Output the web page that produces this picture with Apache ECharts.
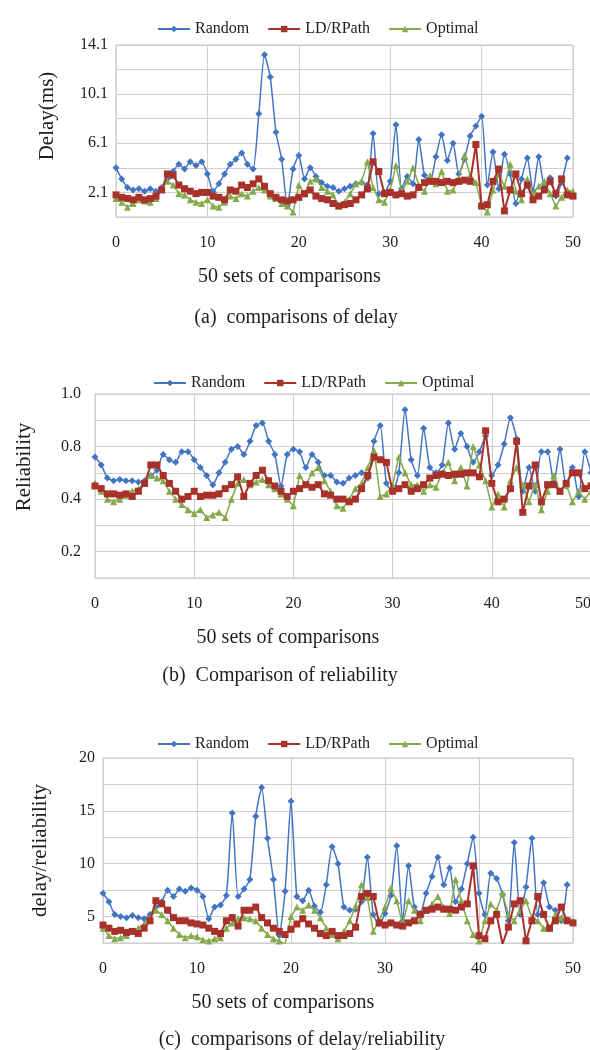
<!DOCTYPE html>
<html>
<head>
<meta charset="utf-8">
<script src="https://cdn.jsdelivr.net/npm/echarts@6/dist/echarts.min.js"></script>
<style>
  html, body { margin: 0; padding: 0; background: #fff; }
  #chart { width: 590px; height: 1050px; }
</style>
</head>
<body>
<div id="chart"></div>
<script>
// one point every 0.625 "sets" along the x axis
const SET_STEP = 0.625;
const seriesNames = ["Random", "LD/RPath", "Optimal"];

// (a) delay (ms)
const delayRandom = [4.1, 3.2, 2.5, 2.3, 2.4, 2.2, 2.4, 2.2, 2.5, 3.2, 3.8, 4.4, 4.0, 4.6, 4.3, 4.6, 3.6, 2.2, 2.8, 3.6,
    4.4, 4.8, 5.3, 4.4, 4.0, 8.5, 13.3, 11.5, 7.0, 4.8, 1.0, 4.0, 5.1, 3.2, 4.1, 3.4, 2.9, 2.6, 2.5, 2.2,
    2.4, 2.6, 2.8, 2.9, 2.7, 6.9, 2.0, 2.1, 3.0, 7.6, 2.4, 3.4, 2.8, 6.4, 3.5, 3.0, 5.0, 6.8, 4.7, 6.1,
    3.6, 4.8, 6.7, 7.5, 8.3, 2.7, 5.4, 2.4, 5.2, 3.6, 1.2, 3.2, 4.9, 2.2, 5.0, 2.6, 3.3, 1.8, 2.9, 4.9];
const delayLdr = [1.9, 1.7, 1.6, 1.5, 1.7, 1.5, 1.6, 1.8, 2.3, 3.6, 3.5, 2.7, 2.4, 2.2, 2.0, 2.1, 2.1, 1.8, 1.7, 1.5,
    2.3, 2.2, 2.7, 2.5, 2.8, 3.2, 2.6, 2.0, 1.7, 1.5, 1.4, 1.5, 1.7, 2.0, 2.3, 1.8, 1.6, 1.5, 1.2, 1.0,
    1.1, 1.2, 1.5, 1.9, 2.4, 4.6, 3.8, 2.0, 2.1, 1.9, 2.0, 1.8, 1.9, 2.5, 2.9, 3.0, 3.0, 2.9, 3.0, 2.9,
    3.0, 3.1, 3.0, 6.0, 1.0, 1.1, 3.0, 4.0, 0.6, 2.3, 3.6, 2.0, 2.7, 1.5, 1.8, 2.3, 3.0, 2.0, 3.2, 1.9, 1.8];
const delayOpt = [1.6, 1.3, 0.9, 1.2, 1.5, 1.4, 1.3, 1.6, 2.4, 3.0, 2.7, 2.0, 1.9, 1.5, 1.3, 1.2, 1.5, 1.0, 0.9, 1.3,
    1.8, 1.6, 2.0, 1.8, 2.2, 2.5, 2.3, 1.8, 1.6, 1.2, 1.0, 0.5, 2.7, 2.0, 3.0, 3.2, 2.5, 2.2, 1.9, 1.0,
    1.3, 2.0, 2.8, 3.0, 4.6, 2.5, 1.5, 1.3, 2.3, 4.3, 2.2, 3.0, 4.1, 2.7, 2.2, 3.5, 2.8, 3.8, 2.2, 2.3,
    3.2, 5.1, 3.5, 2.9, 1.0, 0.5, 2.3, 3.6, 2.6, 4.4, 2.2, 1.5, 3.2, 2.0, 2.6, 3.0, 2.0, 1.0, 1.7, 2.3, 2.2];

// (b) reliability
const relRandom = [0.76, 0.73, 0.68, 0.67, 0.675, 0.67, 0.67, 0.665, 0.67, 0.69, 0.71, 0.77, 0.75, 0.74, 0.78, 0.78, 0.75, 0.72, 0.69, 0.655,
    0.70, 0.74, 0.79, 0.80, 0.77, 0.82, 0.88, 0.89, 0.82, 0.77, 0.65, 0.77, 0.79, 0.78, 0.72, 0.77, 0.74, 0.69, 0.69, 0.665,
    0.66, 0.68, 0.69, 0.70, 0.68, 0.82, 0.88, 0.66, 0.63, 0.70, 0.94, 0.75, 0.69, 0.87, 0.72, 0.70, 0.73, 0.89, 0.79, 0.85,
    0.80, 0.74, 0.78, 0.84, 0.69, 0.73, 0.81, 0.91, 0.83, 0.63, 0.72, 0.63, 0.78, 0.78, 0.66, 0.79, 0.65, 0.72, 0.61, 0.78, 0.70];
const relLdr = [0.65, 0.64, 0.62, 0.62, 0.615, 0.62, 0.61, 0.63, 0.66, 0.73, 0.73, 0.69, 0.66, 0.63, 0.60, 0.61, 0.63, 0.61, 0.615, 0.615,
    0.62, 0.64, 0.655, 0.685, 0.61, 0.66, 0.69, 0.71, 0.67, 0.65, 0.63, 0.61, 0.63, 0.64, 0.655, 0.645, 0.655, 0.62, 0.615, 0.60,
    0.60, 0.59, 0.60, 0.64, 0.69, 0.76, 0.75, 0.74, 0.63, 0.64, 0.655, 0.63, 0.64, 0.655, 0.68, 0.69, 0.695, 0.69, 0.695, 0.695,
    0.70, 0.70, 0.685, 0.86, 0.66, 0.59, 0.60, 0.64, 0.82, 0.55, 0.65, 0.73, 0.59, 0.655, 0.655, 0.63, 0.66, 0.70, 0.70, 0.64, 0.65];
const relOpt = [0.66, 0.63, 0.60, 0.59, 0.60, 0.615, 0.63, 0.64, 0.66, 0.69, 0.68, 0.67, 0.63, 0.60, 0.58, 0.56, 0.545, 0.56, 0.53, 0.54,
    0.55, 0.53, 0.60, 0.66, 0.675, 0.655, 0.665, 0.675, 0.655, 0.64, 0.62, 0.60, 0.575, 0.69, 0.655, 0.70, 0.72, 0.67, 0.63, 0.575,
    0.565, 0.60, 0.64, 0.66, 0.72, 0.785, 0.61, 0.62, 0.655, 0.76, 0.70, 0.655, 0.655, 0.63, 0.655, 0.645, 0.70, 0.74, 0.67, 0.72,
    0.65, 0.80, 0.73, 0.67, 0.57, 0.62, 0.57, 0.67, 0.72, 0.655, 0.59, 0.655, 0.56, 0.63, 0.69, 0.63, 0.655, 0.59, 0.63, 0.60, 0.63];

// (c) delay / reliability
const ratioRandom = [7.2, 6.4, 5.2, 5.0, 4.9, 5.1, 4.9, 4.8, 5.2, 5.9, 6.4, 7.5, 6.9, 7.6, 7.4, 7.7, 7.5, 6.9, 4.8, 5.9,
    6.1, 7.0, 14.8, 6.9, 7.6, 8.5, 14.5, 17.2, 12.4, 8.5, 3.2, 7.4, 15.9, 6.9, 6.5, 7.5, 6.0, 5.4, 8.0, 11.6,
    10.0, 5.9, 5.6, 5.7, 6.4, 10.6, 5.2, 4.3, 5.3, 7.0, 11.7, 4.6, 9.8, 5.9, 5.3, 7.2, 8.8, 10.6, 8.0, 9.6,
    6.4, 7.6, 10.0, 12.5, 7.2, 5.2, 9.1, 8.6, 7.1, 4.6, 12.0, 5.2, 7.8, 12.4, 5.2, 8.2, 5.9, 5.6, 4.6, 8.0];
const ratioLdr = [4.2, 3.9, 3.6, 3.7, 3.5, 3.6, 3.4, 3.9, 4.6, 6.5, 6.2, 5.6, 4.9, 4.6, 4.6, 4.4, 4.3, 4.2, 3.9, 3.6,
    3.4, 4.6, 4.9, 4.1, 5.6, 5.6, 5.9, 4.9, 4.4, 3.9, 3.6, 3.3, 3.8, 4.3, 4.8, 4.3, 3.9, 3.4, 3.2, 3.6,
    3.2, 3.2, 3.4, 4.0, 6.9, 7.2, 6.9, 4.4, 4.2, 4.4, 4.2, 4.1, 4.4, 4.6, 5.2, 5.6, 5.7, 5.9, 5.7, 5.7,
    5.6, 5.9, 6.2, 9.8, 3.2, 2.9, 4.6, 5.2, 2.4, 4.0, 6.2, 6.5, 2.7, 4.6, 6.9, 5.2, 3.9, 4.6, 5.9, 4.6, 4.4];
const ratioOpt = [3.9, 3.2, 2.9, 3.0, 3.2, 3.6, 3.9, 4.3, 4.9, 5.6, 5.2, 4.6, 3.9, 3.3, 3.0, 3.2, 3.1, 2.8, 2.7, 2.9,
    3.0, 3.9, 4.4, 4.8, 4.9, 4.8, 4.6, 3.9, 3.3, 2.9, 2.7, 2.4, 5.0, 5.9, 5.6, 6.1, 5.6, 4.9, 3.9, 3.3,
    2.9, 3.6, 4.6, 6.0, 8.0, 6.8, 3.6, 4.6, 5.9, 7.7, 6.5, 4.3, 6.5, 5.6, 4.6, 5.6, 6.2, 6.9, 5.9, 5.3,
    8.5, 6.5, 4.6, 3.3, 2.7, 4.6, 6.2, 5.6, 7.2, 5.2, 4.6, 5.6, 6.5, 4.9, 4.6, 3.9, 3.9, 5.2, 4.9, 4.7, 4.6];

// tick labels as printed in the figure
const xTicks = [0, 10, 20, 30, 40, 50];
const yTicksA = ["2.1", "6.1", "10.1", "14.1"];
const yTickPosB = ["1.0", "0.8", "0.6", "0.4"];
const yTickTextB = ["1.0", "0.8", "0.4", "0.2"];
const yTicksC = ["5", "10", "15", "20"];

const FONT = "Liberation Serif";
const INK = "#1e1e1e";
const BLUE = "#4274c4", RED = "#a8322a", GREEN = "#84aa4c";

function toPts(values) {
    return values.map((v, i) => [i * SET_STEP, v]);
}

var chart = echarts.init(document.getElementById("chart"), null, {renderer: "canvas"});

var grids = [
    {left: 116, top: 45, width: 457, height: 172},
    {left: 95, top: 394, width: 496, height: 184},
    {left: 103, top: 758, width: 470, height: 185}
];

function xAxisFor(i) {
    return {
        gridIndex: i, type: "value", min: 0, max: 50, interval: 10,
        name: "50 sets of comparisons", nameLocation: "middle", nameGap: 50,
        nameTextStyle: {fontFamily: FONT, fontSize: 20, color: INK, padding: [0, 110, 0, 0]},
        axisLine: {show: false}, axisTick: {show: false},
        axisLabel: {fontFamily: FONT, fontSize: 16, color: INK, margin: 18,
            alignMaxLabel: i === 1 ? "right" : null,
            formatter: v => xTicks.indexOf(Math.round(v)) >= 0 ? String(Math.round(v)) : ""},
        splitLine: {show: true, lineStyle: {color: "#cfcfcf", width: 1}}
    };
}

function yAxisBase(i, name, gap, pad) {
    return {
        gridIndex: i, type: "value", name: name, nameLocation: "middle", nameGap: gap, nameRotate: 90,
        nameTextStyle: {fontFamily: FONT, fontSize: 21, color: INK, padding: pad},
        axisLine: {show: false}, axisTick: {show: false},
        splitLine: {show: true, lineStyle: {color: "#cfcfcf", width: 1}}
    };
}

var yA = yAxisBase(0, "Delay(ms)", 58, [0, 0, 0, 30]);
yA.min = 0.1; yA.max = 14.1; yA.interval = 2;
yA.axisLabel = {fontFamily: FONT, fontSize: 16, color: INK, margin: 8,
    formatter: v => { var s = (Math.round(v * 10) / 10).toFixed(1); return yTicksA.indexOf(s) >= 0 ? s : ""; }};

var yB = yAxisBase(1, "Reliability", 60, [0, 0, 0, 38]);
yB.min = 0.3; yB.max = 1.0; yB.interval = 0.1;
yB.axisLabel = {fontFamily: FONT, fontSize: 16, color: INK, margin: 14,
    formatter: v => { var k = yTickPosB.indexOf((Math.round(v * 10) / 10).toFixed(1)); return k >= 0 ? yTickTextB[k] : ""; }};

var yC = yAxisBase(2, "delay/reliability", 52, [0, 0, 0, 0]);
yC.min = 2.5; yC.max = 20; yC.interval = 2.5;
yC.axisLabel = {fontFamily: FONT, fontSize: 16, color: INK, margin: 8,
    formatter: v => { var s = String(Math.round(v * 10) / 10); return yTicksC.indexOf(s) >= 0 ? s : ""; }};

var panels = [
    [delayRandom, delayLdr, delayOpt],
    [relRandom, relLdr, relOpt],
    [ratioRandom, ratioLdr, ratioOpt]
];

var series = [];
panels.forEach(function (p, i) {
    series.push({name: "Random", type: "line", xAxisIndex: i, yAxisIndex: i, data: toPts(p[0]),
        symbol: "diamond", symbolSize: 7, smooth: 0.2, z: 2,
        lineStyle: {width: 1.5, color: BLUE}, itemStyle: {color: BLUE}});
    series.push({name: "Optimal", type: "line", xAxisIndex: i, yAxisIndex: i, data: toPts(p[2]),
        symbol: "triangle", symbolSize: 7, z: 3,
        lineStyle: {width: 1.5, color: GREEN}, itemStyle: {color: GREEN}});
    series.push({name: "LD/RPath", type: "line", xAxisIndex: i, yAxisIndex: i, data: toPts(p[1]),
        symbol: "rect", symbolSize: 7, z: 4,
        lineStyle: {width: 2, color: RED}, itemStyle: {color: RED}});
});

function legendAt(left, top) {
    return {data: seriesNames, left: left, top: top, itemWidth: 32, itemHeight: 8, itemGap: 18,
        textStyle: {fontFamily: FONT, fontSize: 16, color: INK}};
}

var captions = ["(a)  comparisons of delay", "(b)  Comparison of reliability", "(c)  comparisons of delay/reliability"];
var captionY = [318, 676, 1040];
var captionX = [296, 280, 302];

var option = {
    animation: false,
    backgroundColor: "#fff",
    textStyle: {fontFamily: FONT},
    legend: [legendAt(152, 16), legendAt(148, 370), legendAt(152, 731)],
    grid: grids.map(g => Object.assign({show: true, borderColor: "#c4c4c4", borderWidth: 1, outerBoundsMode: "none"}, g)),
    xAxis: [xAxisFor(0), xAxisFor(1), xAxisFor(2)],
    yAxis: [yA, yB, yC],
    series: series,
    graphic: captions.map((t, i) => ({
        type: "text", x: captionX[i], y: captionY[i],
        style: {text: t, fontFamily: FONT, fontSize: 20, fill: INK, textAlign: "center", textVerticalAlign: "middle"}
    }))
};

chart.setOption(option);
</script>
</body>
</html>
